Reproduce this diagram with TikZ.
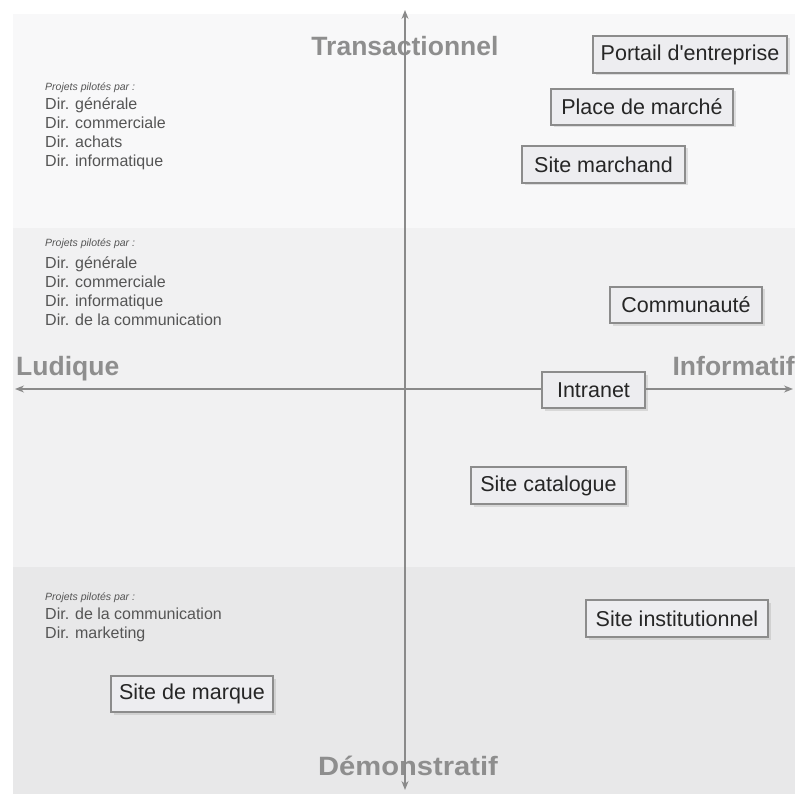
\documentclass[tikz,border=0pt]{standalone}
\usepackage{fontspec}
\setmainfont{Liberation Sans}
\usetikzlibrary{shadows,arrows.meta}
\definecolor{bandA}{HTML}{F8F8F9}
\definecolor{bandB}{HTML}{F1F1F2}
\definecolor{bandC}{HTML}{E8E8E9}
\definecolor{axisgray}{HTML}{8A8A8A}
\definecolor{labelgray}{HTML}{8E8E8E}
\definecolor{boxline}{HTML}{8C8C8C}
\definecolor{boxfill}{HTML}{EDEDF0}
\definecolor{boxtext}{HTML}{262626}
\definecolor{pilotgray}{HTML}{555555}
\begin{document}
\begin{tikzpicture}[x=1pt,y=-1pt,
  site/.style={draw=boxline, line width=1.3pt, fill=boxfill, text=boxtext,
    font=\fontsize{21.5}{24}\selectfont, inner xsep=5pt, minimum height=36pt,
    drop shadow={opacity=0.22, shadow xshift=2.5pt, shadow yshift=-2.5pt}},
  axislabel/.style={text=labelgray, font=\bfseries\fontsize{26.5}{30}\selectfont, inner sep=0pt},
  axisline/.style={draw=axisgray, line width=1.3pt,
    {Stealth[length=9pt,width=7pt]}-{Stealth[length=9pt,width=7pt]}},
  pilot/.style={anchor=base west, inner sep=0pt, text=pilotgray, font=\fontsize{16}{18}\selectfont},
  pilothead/.style={anchor=base west, inner sep=0pt, text=pilotgray, font=\itshape\fontsize{10.5}{12}\selectfont}]
\useasboundingbox (0,0) rectangle (795,794);
\fill[white] (0,0) rectangle (795,794);
\fill[bandA] (13,14) rectangle (795,228);
\fill[bandB] (13,228) rectangle (795,567);
\fill[bandC] (13,567) rectangle (795,794);

% axis labels
\node[axislabel] (trans) at (405,46) {Transactionnel};
\node[axislabel, anchor=west] (lud) at (16,369) {Ludique};
\node[axislabel, anchor=east] (info) at (795,366) {Informatif};
\node[axislabel, xscale=1.1] (demo) at (408,766) {Démonstratif};

% axes
\coordinate (ytop) at (405,10);
\coordinate (ybot) at (405,790);
\coordinate (xleft) at (15,389);
\coordinate (xright) at (793,389);
\draw[axisline] (ybot) -- (ytop);
\draw[axisline] (xleft) -- (xright);

% pilot groups
\node[pilothead] (g1h) at (45,91) {Projets pilotés par :};
\node[pilot] (g1a) at (45,110) {Dir. générale};
\node[pilot] (g1b) at (45,129) {Dir. commerciale};
\node[pilot] (g1c) at (45,148) {Dir. achats};
\node[pilot] (g1d) at (45,167) {Dir. informatique};

\node[pilothead] (g2h) at (45,247) {Projets pilotés par :};
\node[pilot] (g2a) at (45,269) {Dir. générale};
\node[pilot] (g2b) at (45,288) {Dir. commerciale};
\node[pilot] (g2c) at (45,306) {Dir. informatique};
\node[pilot] (g2d) at (45,325) {Dir. de la communication};

\node[pilothead] (g3h) at (45,600) {Projets pilotés par :};
\node[pilot] (g3a) at (45,619) {Dir. de la communication};
\node[pilot] (g3b) at (45,638) {Dir. marketing};

% site boxes
\node[site, minimum width=194pt, minimum height=37pt] (portail) at (690,54.5) {Portail d\textquotesingle entreprise};
\node[site, minimum width=182pt] (place) at (642,107) {Place de marché};
\node[site, minimum width=163pt, minimum height=37pt] (marchand) at (603.5,164.5) {Site marchand};
\node[site, minimum width=152pt] (commu) at (686,305) {Communauté};
\node[site, minimum width=103pt] (intranet) at (593.5,390) {Intranet};
\node[site, minimum width=155pt, minimum height=37pt] (catalogue) at (548.5,485.5) {Site catalogue};
\node[site, minimum width=182pt, minimum height=37pt] (institu) at (677,618.5) {Site institutionnel};
\node[site, minimum width=162pt] (marque) at (192,694) {Site de marque};
\end{tikzpicture}
\end{document}
